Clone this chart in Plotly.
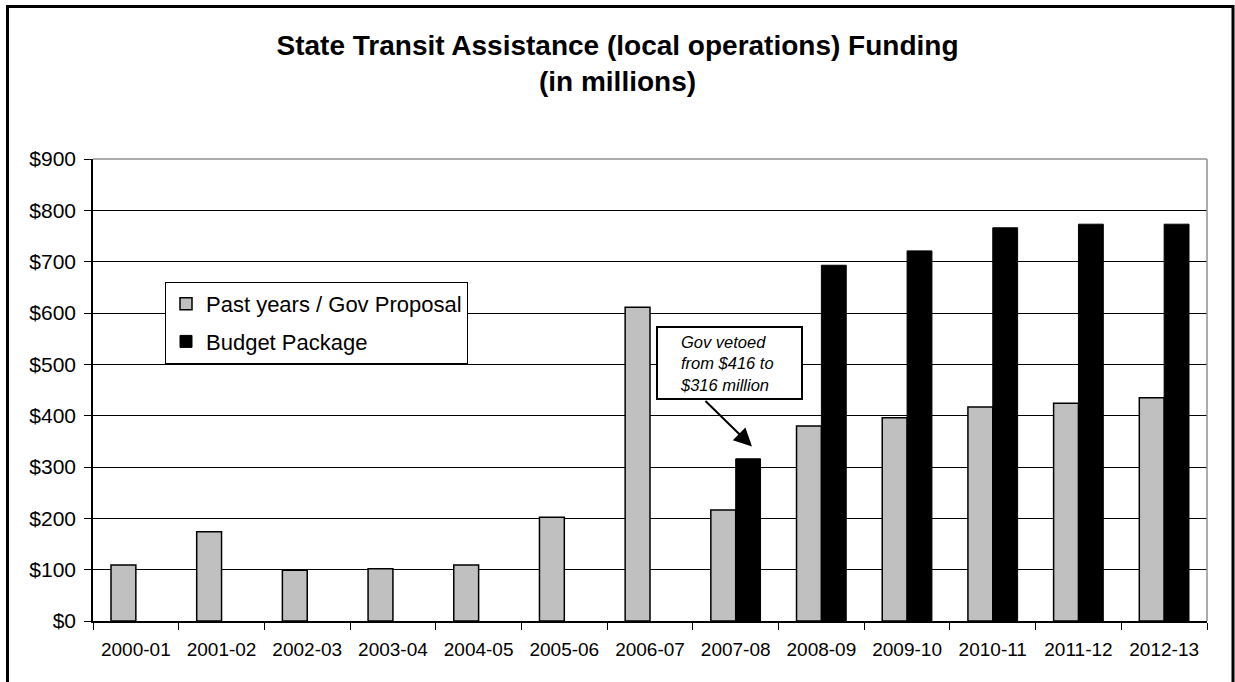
import plotly.graph_objects as go

years = ["2000-01", "2001-02", "2002-03", "2003-04", "2004-05", "2005-06", "2006-07",
         "2007-08", "2008-09", "2009-10", "2010-11", "2011-12", "2012-13"]
past_gov = [109, 174, 99, 102, 109, 202, 611, 216, 380, 396, 417, 424, 435]
budget_pkg = [None, None, None, None, None, None, None, 316, 693, 721, 766, 773, 773]
y_ticks = [0, 100, 200, 300, 400, 500, 600, 700, 800, 900]
y_tick_text = ["$" + str(v) for v in y_ticks]

W, H = 1235, 682
L, R, T, B = 93, 1207, 159, 621  # plot area pixel box


def px(x):
    return (x - L) / (R - L)


def py(y):
    return (B - y) / (B - T)


FONT = "Liberation Sans, Arial, sans-serif"

fig = go.Figure()
fig.add_trace(go.Bar(
    x=years, y=past_gov, name="Past years / Gov Proposal", legendgroup="a",
    marker=dict(color="#C0C0C0", line=dict(color="black", width=1.5)),
))
fig.add_trace(go.Bar(
    x=years, y=budget_pkg, name="Budget Package", legendgroup="b",
    marker=dict(color="black", line=dict(color="black", width=1)),
))

shapes = [
    # plot area border top/right (gray)
    dict(type="line", xref="paper", yref="paper", x0=0, x1=1, y0=1, y1=1,
         line=dict(color="#909090", width=1.5), layer="above"),
    dict(type="line", xref="paper", yref="paper", x0=1, x1=1, y0=0, y1=1,
         line=dict(color="#909090", width=1.5), layer="above"),
    # outer chart frame
    dict(type="rect", xref="paper", yref="paper", x0=px(7.5), x1=px(1233), y0=py(6.5), y1=py(700),
         line=dict(color="black", width=3), fillcolor="rgba(0,0,0,0)", layer="above"),
    # callout box
    dict(type="rect", xref="paper", yref="paper", x0=px(657), x1=px(802), y0=py(327), y1=py(399),
         line=dict(color="black", width=2), fillcolor="white", layer="above"),
]

annotations = [
    dict(xref="paper", yref="paper", x=px(678), y=py(363), xanchor="left", yanchor="middle",
         align="left", showarrow=False,
         text="<i>Gov vetoed<br>from $416 to<br>$316 million</i>",
         font=dict(family=FONT, size=16.5, color="black")),
    dict(xref="x", yref="y", x=7.19, y=340, ax=-48, ay=-47, axref="pixel", ayref="pixel",
         text="", showarrow=True, arrowhead=2, arrowsize=1.8, arrowwidth=2, arrowcolor="black"),
]

fig.update_layout(
    width=W, height=H,
    margin=dict(l=L, r=W - R, t=T, b=H - B, pad=0),
    paper_bgcolor="white", plot_bgcolor="white",
    font=dict(family=FONT, color="black"),
    title=dict(text="<b>State Transit Assistance (local operations) Funding<br>(in millions)</b>",
               x=0.5, xanchor="center", y=1 - 55 / H, yanchor="top",
               font=dict(family=FONT, size=28, color="black")),
    barmode="group", bargap=0.42, bargroupgap=0,
    showlegend=True,
    legend=dict(x=px(165), y=py(282), xanchor="left", yanchor="top",
                bgcolor="white", bordercolor="black", borderwidth=1,
                font=dict(family=FONT, size=22, color="black"),
                traceorder="grouped", tracegroupgap=6),
    xaxis=dict(type="category", showline=True, linecolor="black", linewidth=1.5,
               ticks="outside", tickson="boundaries", ticklen=7, tickcolor="black",
               ticklabelstandoff=10,
               tickfont=dict(family=FONT, size=19, color="black"), showgrid=False),
    yaxis=dict(range=[0, 900], tickvals=y_ticks, ticktext=y_tick_text,
               showline=True, linecolor="black", linewidth=1.5,
               ticks="outside", ticklen=7, tickcolor="black", ticklabelstandoff=4,
               tickfont=dict(family=FONT, size=21, color="black"),
               showgrid=True, gridcolor="black", gridwidth=1, zeroline=False),
    shapes=shapes, annotations=annotations,
)

fig.write_html("out.html", config={"displayModeBar": False},
               post_script="document.body.style.margin='0';document.body.style.overflow='hidden';")
